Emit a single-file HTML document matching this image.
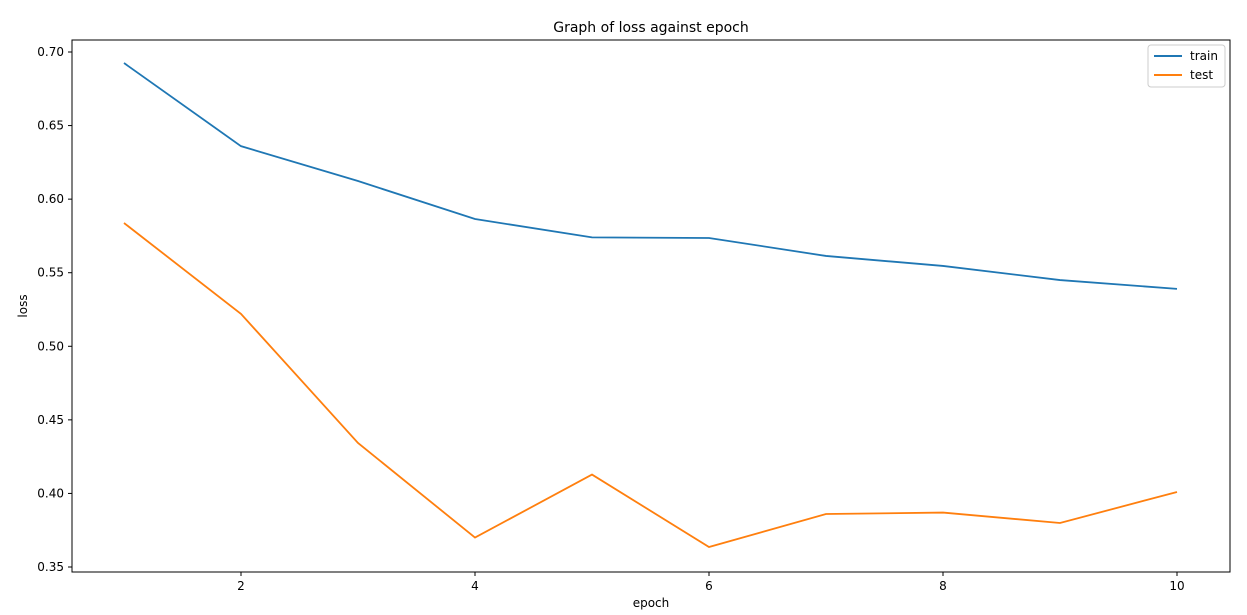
<!DOCTYPE html>
<html><head><meta charset="utf-8">
<style>
html,body{margin:0;padding:0;background:#fff;}
svg{display:block;font-family:"DejaVu Sans","Liberation Sans",sans-serif;}
</style></head>
<body>
<svg id="chart" width="1247" height="615" viewBox="0 0 1247 615" xmlns="http://www.w3.org/2000/svg">
<text x="651" y="32" font-size="14" text-anchor="middle" fill="#000">Graph of loss against epoch</text>
<g id="plot"></g>
<rect x="72" y="40" width="1158" height="532" fill="none" stroke="#000" stroke-width="1"/>
<text x="651" y="607" font-size="12" text-anchor="middle">epoch</text>
<text x="0" y="0" font-size="12" text-anchor="middle" transform="translate(27,306) rotate(-90)">loss</text>
<g>
<rect x="1148" y="45" width="77" height="42" rx="3" fill="#fff" stroke="#ccc"/>
<line x1="1154" y1="56" x2="1182" y2="56" stroke="#1f77b4" stroke-width="2"/>
<text x="1190" y="60" font-size="12">train</text>
<line x1="1154" y1="75" x2="1182" y2="75" stroke="#ff7f0e" stroke-width="2"/>
<text x="1190" y="79" font-size="12">test</text>
</g>
</svg>
<script>
const epochs = [1,2,3,4,5,6,7,8,9,10];
const trainLoss = [0.6925,0.636,0.6123,0.5865,0.574,0.5736,0.5614,0.5546,0.545,0.539];
const testLoss = [0.5838,0.522,0.4343,0.370,0.4128,0.3636,0.386,0.387,0.3799,0.401];
const xTicks = [2,4,6,8,10];
const yTicks = [0.35,0.40,0.45,0.50,0.55,0.60,0.65,0.70];

const NS="http://www.w3.org/2000/svg";
const g=document.getElementById('plot');
function xs(v){return 124+(v-1)*(1177-124)/9;}
function ys(v){return 567-(v-0.35)*(567-52)/0.35;}
function mk(t,a){const e=document.createElementNS(NS,t);for(const k in a)e.setAttribute(k,a[k]);g.appendChild(e);return e;}
xTicks.forEach(t=>{
  const l=mk('line',{x1:xs(t),x2:xs(t),y1:572,y2:576,stroke:'#000'});
  
  
  const tx=mk('text',{x:xs(t),y:590,'font-size':12,'text-anchor':'middle'});
  tx.textContent=t;
  
  
});
yTicks.forEach(t=>{
  const l=mk('line',{x1:68,x2:72,y1:ys(t),y2:ys(t),stroke:'#000'});
  
  
  const tx=mk('text',{x:64,y:ys(t)+4,'font-size':12,'text-anchor':'end'});
  tx.textContent=t.toFixed(2);
  
  
});
function line(vals,color,name){
  const p=mk('polyline',{points:vals.map((v,i)=>xs(epochs[i])+','+ys(v)).join(' '),fill:'none',stroke:color,'stroke-width':1.8});
  
  
}
line(trainLoss,'#1f77b4','train-line');
line(testLoss,'#ff7f0e','test-line');
</script>
</body></html>
